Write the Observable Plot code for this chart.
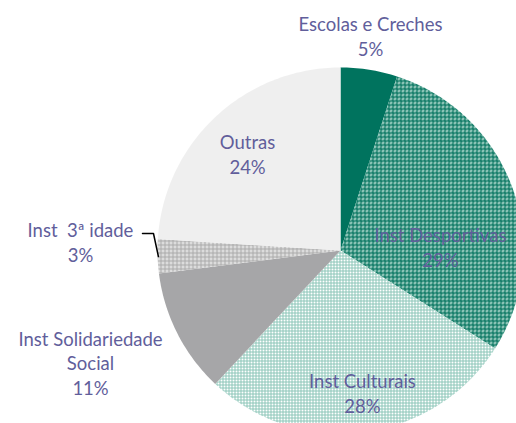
<!DOCTYPE html>
<html><head><meta charset="utf-8">
<script src="https://cdn.jsdelivr.net/npm/d3@7"></script>
<script src="https://cdn.jsdelivr.net/npm/@observablehq/plot@0.6"></script>
<style>html,body{margin:0;padding:0;background:#fff;overflow:hidden}</style>
</head><body><div id="chart"></div>
<script>
// Data
const categories = ["Escolas e Creches", "Inst Desportivas", "Inst Culturais", "Inst Solidariedade Social", "Inst 3ª idade", "Outras"];
const values = [5, 29, 28, 11, 3, 24];
const labelLines = ["Escolas e Creches", "Inst Desportivas", "Inst Culturais", "Inst Solidariedade\nSocial", "Inst \u00a03ª idade", "Outras"];

// Label anchor positions (unit-circle coordinates, annotation layout)
const labelX = [0.164, 0.546, 0.120, -1.366, -1.421, -0.508];
const labelY = [1.175, 0.022, -0.776, -0.612, 0.049, 0.530];
const leaderX = [-1.082, -1.022, -0.995];
const leaderY = [0.093, 0.093, -0.033];

const fills = ["#00735e", "url(#pDesp)", "url(#pCult)", "#a6a6a8", "url(#pIdade)", "url(#pOutras)"];

// Build slice polygons from pie angles
const arcs = d3.pie().sort(null).value(d => d)(values);
const slicePts = [];
arcs.forEach((a, i) => {
  const cat = categories[i];
  slicePts.push({cat, x: 0, y: 0});
  const n = Math.max(2, Math.ceil((a.endAngle - a.startAngle) / (Math.PI / 180)));
  for (let k = 0; k <= n; k++) {
    const t = a.startAngle + (a.endAngle - a.startAngle) * k / n;
    slicePts.push({cat, x: Math.sin(t), y: Math.cos(t)});
  }
});

const labels = categories.map((c, i) => ({
  text: labelLines[i] + "\n" + values[i] + "%",
  x: labelX[i], y: labelY[i]
}));
const leader = leaderX.map((x, i) => ({x, y: leaderY[i]}));

const chart = Plot.plot({
  width: 516,
  height: 423,
  margin: 0,
  x: {domain: [-1, 1], range: [157, 523], axis: null},
  y: {domain: [-1, 1], range: [433, 67], axis: null},
  color: {domain: categories, range: fills},
  style: {fontFamily: "Lato, 'Open Sans', sans-serif", background: "#fff"},
  marks: [
    Plot.line(slicePts, {x: "x", y: "y", z: "cat", fill: "cat", stroke: "none", curve: "linear-closed"}),
    Plot.line(leader, {x: "x", y: "y", stroke: "#000", strokeWidth: 1.5}),
    Plot.text(labels, {x: "x", y: "y", text: "text", fill: "#615e9b", fontSize: 18.5, lineHeight: 1.33, textAnchor: "middle", lineAnchor: "middle"})
  ]
});

// Pattern definitions
const ns = "http://www.w3.org/2000/svg";
const defs = document.createElementNS(ns, "defs");
defs.innerHTML = `
<pattern id="pDesp" width="4" height="4" patternUnits="userSpaceOnUse">
  <rect width="4" height="4" fill="#8fc6b9"/>
  <rect x="1" y="1" width="1" height="1" fill="#5aa593"/>
  <rect x="3" y="3" width="1" height="1" fill="#5aa593"/>
  <rect width="4" height="1" fill="#00715c"/>
  <rect width="1" height="4" fill="#00715c"/>
</pattern>
<pattern id="pCult" width="3" height="3" patternUnits="userSpaceOnUse">
  <rect width="3" height="3" fill="#ffffff"/>
  <rect width="3" height="1" fill="#8cc6b8"/>
  <rect width="1" height="3" fill="#8cc6b8"/>
</pattern>
<pattern id="pIdade" width="4" height="4" patternUnits="userSpaceOnUse">
  <rect width="4" height="4" fill="#dcdcdc"/>
  <rect width="4" height="1" fill="#ababab"/>
  <rect width="1" height="4" fill="#ababab"/>
</pattern>
<pattern id="pOutras" width="2" height="2" patternUnits="userSpaceOnUse">
  <rect width="2" height="2" fill="#ffffff"/>
  <rect width="1" height="1" fill="#d8d8d8"/>
  <rect x="1" y="1" width="1" height="1" fill="#e6e6e6"/>
</pattern>`;
chart.insertBefore(defs, chart.firstChild);
document.getElementById("chart").appendChild(chart);
</script>
</body></html>
